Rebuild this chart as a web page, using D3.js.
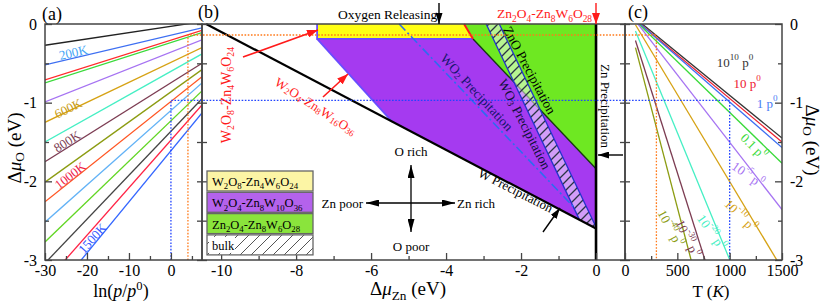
<!DOCTYPE html>
<html><head><meta charset="utf-8">
<script src="https://cdn.jsdelivr.net/npm/d3@7"></script>
<style>
body{margin:0;background:#fff}
svg{display:block;font-family:"Liberation Serif","Times New Roman",serif}
</style>
</head><body>
<script>
// ---------- data ----------
// (a) Δμ_O against ln(p/p0), one straight line per temperature
var aTemps   = [100,200,300,400,500,600,700,800,900,1000,1100,1200,1300,1400,1500];
var aLnEnds  = [-30, 7.4];
var aMuStart = [-0.27,-0.52,-0.71,-0.75,-0.99,-1.25,-1.50,-1.75,-2.01,-2.26,-2.52,-2.77,-3.04,-3.29,-3.56];
var aMuEnd   = [0.03,-0.05,-0.08,-0.11,-0.20,-0.30,-0.38,-0.50,-0.58,-0.67,-0.75,-0.85,-0.95,-1.03,-1.13];
var aColors  = ['#222222','#3d6ff2','#ff2a2a','#3ada3a','#a673f2','#d6a214','#45efc4','#7c3c52','#8c9c12','#ff5522','#62b2f6','#62d624','#444444','#ff2244','#3366ff'];
var aLabels  = ['200K','600K','800K','1000K','1500K'];

// (c) Δμ_O against T, one line per pressure (mantissa, exponent)
var cPress   = [['10','10'],['10',''],['1',''],['0.1',''],['10','-5'],['10','-10'],['10','-20'],['10','-30'],['10','-40']];
var cTEnds   = [100, 1500];
var cMuStart = [0.07,0.05,0.05,0.04,0.04,-0.01,-0.09,-0.21,-0.30];
var cMuEnd   = [-1.45,-1.50,-1.57,-1.77,-2.36,-3.11,-4.61,-6.09,-7.41];
var cColors  = ['#333333','#ee2030','#3d6ff2','#3ada3a','#a673f2','#d6a214','#45efc4','#7c3c52','#8c9c12'];

// (b) stability regions, points are (Δμ_Zn, Δμ_O)
var regYellow = [[-7.44,0],[-3.52,0],[-3.28,-0.19],[-7.44,-0.19]];
var regPurple = [[-7.44,-0.19],[-3.28,-0.19],[0,-1.84],[0,-2.6],[-5.44,-1.24]];
var regGreen  = [[-3.52,0],[0,0],[0,-1.84],[-3.28,-0.19]];
var regBulk   = [[-2.93,0],[-2.58,0],[0,-2.58],[0,-2.6],[-0.44,-2.49]];
var wLine     = [[-10.4,0],[0,-2.6]];
var wo2Line   = [[-5.25,0],[-0.55,-2.35]];
var legendNames = ['W2O8-Zn4W6O24','W2O4-Zn8W10O36','Zn2O4-Zn8W6O28','bulk'];

// dotted guides (300 K, 1000 K)
var guideMu = [-0.14, -0.97];
var guideLn = [4.05, 0];
var guideT  = [300, 1000];

// ticks
var aXTicks = [-30,-20,-10,0], aXMinor = [-25,-15,-5,5];
var yTicks = [0,-1,-2,-3], yMinor = [-0.5,-1.5,-2.5], yHalf = [0,-0.5,-1,-1.5,-2,-2.5,-3];
var bXTicks = [-10,-8,-6,-4,-2,0], bXMinor = [-9,-7,-5,-3,-1];
var cXTicks = [0,500,1000,1500], cXMinor = [250,750,1250];

// ---------- drawing ----------
var svg = d3.select('body').append('svg').attr('width', 825).attr('height', 302);
var defs = svg.append('defs');

var y  = d3.scaleLinear().domain([0,-3]).range([24,260]);
var xa = d3.scaleLinear().domain([-30,7.4]).range([45,202]);
var xb = d3.scaleLinear().domain([-10.51,0.773]).range([202,625]);
var xc = d3.scaleLinear().domain([0,1500]).range([625,782]);

function clip(id, x0, x1) {
    defs.append('clipPath').attr('id', id).append('rect')
        .attr('x', x0).attr('y', 24).attr('width', x1 - x0).attr('height', 236);
}
clip('clipA', 45, 202); clip('clipC', 625, 782);

// hatch patterns
var ph = defs.append('pattern').attr('id','hatchStrip').attr('patternUnits','userSpaceOnUse')
    .attr('width', 9).attr('height', 9);
ph.append('rect').attr('width', 9).attr('height', 9).attr('fill', '#fff').attr('fill-opacity', 0.5);
ph.append('path').attr('d','M0,9 L9,0 M-2,2 L2,-2 M7,11 L11,7').attr('stroke','#2a3444').attr('stroke-width',1.3);
var pl = defs.append('pattern').attr('id','hatchLegend').attr('patternUnits','userSpaceOnUse')
    .attr('width', 11).attr('height', 11);
pl.append('rect').attr('width', 11).attr('height', 11).attr('fill', '#fff');
pl.append('path').attr('d','M0,11 L11,0 M-2,2 L2,-2 M9,13 L13,9').attr('stroke','#555').attr('stroke-width',1);

function marker(id, color, w, l) {
    defs.append('marker').attr('id', id).attr('viewBox','0 0 10 10')
        .attr('refX', 10).attr('refY', 5).attr('markerWidth', l).attr('markerHeight', w)
        .attr('markerUnits','userSpaceOnUse').attr('orient','auto-start-reverse')
        .attr('preserveAspectRatio','none')
        .append('path').attr('d','M0,0 L10,5 L0,10 z').attr('fill', color);
}
marker('arrK', '#000', 7, 11);
marker('arrR', '#ff1a1a', 8, 11);
marker('arrC', '#000', 7, 13);

// rich text: parts = [[string, kind]], kind '' | 'it' | 'sub' | 'sup' | 'itsub'
function rich(g, x, yy, parts, o) {
    var t = g.append('text').attr('x', x).attr('y', yy)
        .attr('font-size', o.size).attr('fill', o.color || '#000')
        .attr('text-anchor', o.anchor || 'start');
    if (o.central) t.attr('dominant-baseline', 'central');
    if (o.rot) t.attr('transform', 'rotate(' + o.rot + ',' + x + ',' + yy + ')');
    var shift = 0;
    parts.forEach(function(p) {
        var k = p[1] || '';
        var target = k.indexOf('sub') >= 0 ? o.size * 0.27 : (k.indexOf('sup') >= 0 ? -o.size * 0.38 : 0);
        var ts = t.append('tspan').text(p[0]);
        if (target !== shift) ts.attr('dy', target - shift);
        shift = target;
        if (target !== 0) ts.attr('font-size', o.size * 0.7);
        if (k.indexOf('it') >= 0) ts.attr('font-style', 'italic');
    });
    return t;
}
function chem(s) {
    return s.match(/\d+|\D+/g).map(function(m) { return [m, /\d/.test(m) ? 'sub' : '']; });
}

var line = function(sx) {
    return d3.line().x(function(d) { return sx(d[0]); }).y(function(d) { return y(d[1]); });
};

// ----- panel (b) regions -----
var gB = svg.append('g');
var lb = line(xb);
gB.append('path').attr('d', lb(regYellow) + 'Z').attr('fill', '#ffff14');
gB.append('path').attr('d', lb(regPurple) + 'Z').attr('fill', '#a53af0');
gB.append('path').attr('d', lb(regGreen) + 'Z').attr('fill', '#6ee822');
// borders
gB.append('path').attr('d', lb([regYellow[0], regYellow[3], regYellow[2]])).attr('fill','none')
    .attr('stroke','#6a4cff').attr('stroke-width',1.8);
gB.append('path').attr('d', lb([regPurple[0], regPurple[4]])).attr('fill','none')
    .attr('stroke','#6a4cff').attr('stroke-width',1.8);
gB.append('path').attr('d', lb([regGreen[3], regGreen[2]])).attr('fill','none')
    .attr('stroke','#153a10').attr('stroke-width',1.4);
gB.append('path').attr('d', lb([regYellow[1], regYellow[2]])).attr('fill','none')
    .attr('stroke','#ff1a1a').attr('stroke-width',2);
// bulk strip
gB.append('path').attr('d', lb(regBulk) + 'Z').attr('fill', 'url(#hatchStrip)');
gB.append('path').attr('d', lb([regBulk[0], regBulk[4]])).attr('fill','none').attr('stroke','#2233cc').attr('stroke-width',1.3);
gB.append('path').attr('d', lb([regBulk[1], regBulk[2]])).attr('fill','none').attr('stroke','#2233cc').attr('stroke-width',1.3);
// WO2 line, W line, Zn line
gB.append('path').attr('d', lb(wo2Line)).attr('fill','none').attr('stroke','#2d6cf0')
    .attr('stroke-width',1.6).attr('stroke-dasharray','9,3,2,3');
gB.append('path').attr('d', lb(wLine)).attr('fill','none').attr('stroke','#000').attr('stroke-width',2.2);
gB.append('line').attr('x1', xb(0)).attr('x2', xb(0)).attr('y1', y(0)).attr('y2', y(-3))
    .attr('stroke','#000').attr('stroke-width',2.6);

// ----- panel (a) lines -----
var la = line(xa);
svg.append('g').attr('clip-path','url(#clipA)').selectAll('path').data(aTemps).join('path')
    .attr('d', function(t, i) { return la([[aLnEnds[0], aMuStart[i]], [aLnEnds[1], aMuEnd[i]]]); })
    .attr('fill','none').attr('stroke', function(t, i) { return aColors[i]; }).attr('stroke-width', 1.3);

// ----- panel (c) lines -----
var lc = line(xc);
svg.append('g').attr('clip-path','url(#clipC)').selectAll('path').data(cPress).join('path')
    .attr('d', function(p, i) { return lc([[cTEnds[0], cMuStart[i]], [cTEnds[1], cMuEnd[i]]]); })
    .attr('fill','none').attr('stroke', function(p, i) { return cColors[i]; }).attr('stroke-width', 1.3);

// ----- dotted guides -----
var guideColors = ['#ff7a1a', '#2244ff'];
var gG = svg.append('g').attr('fill','none').attr('stroke-width',1.3).attr('stroke-dasharray','1.6,1.6');
guideMu.forEach(function(mu, k) {
    var d = 'M' + xa(guideLn[k]) + ',' + y(-3) + 'V' + y(mu) + 'H' + xc(guideT[k]) + 'V' + y(-3);
    gG.append('path').attr('d', d).attr('stroke', guideColors[k]);
});

// ----- frames -----
var gF = svg.append('g').attr('fill','none').attr('stroke','#444').attr('stroke-width',1.5);
[[45,202],[202,625],[625,782]].forEach(function(r) {
    gF.append('rect').attr('x', r[0]).attr('y', y(0)).attr('width', r[1] - r[0]).attr('height', y(-3) - y(0));
});

// ----- axes -----
var fmt = function(d) { return String(d); };
function styleAxis(g, size) {
    g.select('.domain').remove();
    g.attr('font-family', null).attr('font-size', size || 16);
    g.selectAll('line').attr('stroke', '#444').attr('stroke-width', 1.3);
    g.selectAll('text').attr('fill', '#000');
}
function ax(gen, tx, ty) {
    var g = svg.append('g').attr('transform', 'translate(' + tx + ',' + ty + ')').call(gen);
    styleAxis(g);
    return g;
}
// bottom axes
ax(d3.axisBottom(xa).tickValues(aXTicks).tickSizeInner(-7).tickSizeOuter(0).tickPadding(5).tickFormat(fmt), 0, 260);
ax(d3.axisBottom(xa).tickValues(aXMinor).tickSizeInner(-4).tickSizeOuter(0).tickFormat(''), 0, 260);
ax(d3.axisBottom(xb).tickValues(bXTicks).tickSizeInner(-7).tickSizeOuter(0).tickPadding(5).tickFormat(fmt), 0, 260);
ax(d3.axisBottom(xb).tickValues(bXMinor).tickSizeInner(-4).tickSizeOuter(0).tickFormat(''), 0, 260);
ax(d3.axisBottom(xc).tickValues(cXTicks).tickSizeInner(-7).tickSizeOuter(0).tickPadding(5).tickFormat(fmt), 0, 260);
ax(d3.axisBottom(xc).tickValues(cXMinor).tickSizeInner(-4).tickSizeOuter(0).tickFormat(''), 0, 260);
// left of (a), right of (c)
ax(d3.axisLeft(y).tickValues(yTicks).tickSizeInner(-7).tickSizeOuter(0).tickPadding(8).tickFormat(fmt), 45, 0);
ax(d3.axisLeft(y).tickValues(yMinor).tickSizeInner(-4).tickSizeOuter(0).tickFormat(''), 45, 0);
ax(d3.axisRight(y).tickValues(yTicks).tickSizeInner(-7).tickSizeOuter(0).tickPadding(8).tickFormat(fmt), 782, 0);
ax(d3.axisRight(y).tickValues(yMinor).tickSizeInner(-4).tickSizeOuter(0).tickFormat(''), 782, 0);
// shared edges: ticks on both sides
[202, 625].forEach(function(xe) {
    ax(d3.axisLeft(y).tickValues(yHalf).tickSizeInner(5).tickSizeOuter(0).tickFormat(''), xe, 0);
    ax(d3.axisRight(y).tickValues(yHalf).tickSizeInner(5).tickSizeOuter(0).tickFormat(''), xe, 0);
});

// ----- axis titles -----
var gT = svg.append('g');
rich(gT, 14, 148, [['Δ',''],['μ','it'],['O','sub'],[' (eV)','']], {size:19, anchor:'middle', central:true, rot:-90});
rich(gT, 813, 140, [['Δ',''],['μ','it'],['O','sub'],[' (eV)','']], {size:19, anchor:'middle', central:true, rot:90});
rich(gT, 121, 297, [['ln(',''],['p','it'],['/',''],['p','it'],['0','sup'],[')','']], {size:18, anchor:'middle'});
rich(gT, 408, 295, [['Δ',''],['μ','it'],['Zn','sub'],[' (eV)','']], {size:19, anchor:'middle'});
rich(gT, 711, 297, [['T (',''],['K','it'],[')','']], {size:17, anchor:'middle'});
rich(gT, 42, 20, [['(a)','']], {size:18});
rich(gT, 198, 18, [['(b)','']], {size:18});
rich(gT, 628, 18, [['(c)','']], {size:18});

// ----- (a) temperature labels -----
var aLab = [[1,-23.3,-0.356,-13,'#45a5f5'],[5,-24.5,-1.067,-26,'#c89a10'],[7,-24.8,-1.487,-32,'#7c3c52'],
            [9,-24.05,-1.919,-38,'#ee1c4a'],[14,-18.8,-2.72,-48,'#3355ff']];
aLab.forEach(function(l, k) {
    rich(gT, xa(l[1]), y(l[2]), [[aLabels[k],'']], {size:13, anchor:'middle', central:true, rot:l[3], color:l[4]});
});

// ----- (c) pressure labels -----
var cLab = [[0,1051,-0.48,0],[1,1166,-0.75,0],[2,1357,-1.0,0],[3,1233,-1.55,45],[4,1175,-1.91,35],
            [5,1108,-2.43,45],[6,831,-2.64,55],[7,602,-2.72,65],[8,439,-2.59,62]];
cLab.forEach(function(l) {
    var p = cPress[l[0]];
    var parts = [[p[0], '']];
    if (p[1]) parts.push([p[1], 'sup']);
    parts.push([' p', '']); parts.push(['0', 'sup']);
    var col = l[0] === 2 ? '#4a7cf5' : cColors[l[0]];
    rich(gT, xc(l[1]), y(l[2]), parts, {size:13, anchor:'middle', central:true, rot:l[3], color:col});
});

// ----- (b) annotations -----
var gN = svg.append('g');
function arrow(x1, y1, x2, y2, col, mk, both, w) {
    var p = gN.append('line').attr('x1', x1).attr('y1', y1).attr('x2', x2).attr('y2', y2)
        .attr('stroke', col).attr('stroke-width', w || 1.4).attr('marker-end', 'url(#' + mk + ')');
    if (both) p.attr('marker-start', 'url(#' + mk + ')');
}
rich(gN, 338, 19, [['Oxygen Releasing','']], {size:13.5});
arrow(439, 3, 439, 24, '#000', 'arrK');
rich(gN, 497, 18, chem('Zn2O4-Zn8W6O28'), {size:13.5, color:'#ff1a1a'});
arrow(596, 3, 596, 24, '#ff1a1a', 'arrR');
rich(gN, 226, 95, chem('W2O8-Zn4W6O24'), {size:14, color:'#ff1a1a', anchor:'middle', central:true, rot:-90});
arrow(243, 57, 318, 30, '#ff1a1a', 'arrR', false, 1.6);
rich(gN, 316, 106, chem('W2O4-Zn8W16O36'), {size:13, color:'#ff1a1a', anchor:'middle', central:true, rot:33});
arrow(323, 97, 348, 74, '#ff1a1a', 'arrR', false, 1.6);
rich(gN, 477, 92, [['WO',''],['2','sub'],[' Precipitation','']], {size:13.5, color:'#15156e', anchor:'middle', central:true, rot:47});
rich(gN, 525, 124, [['WO',''],['3','sub'],[' Precipitation','']], {size:13.5, color:'#10103a', anchor:'middle', central:true, rot:63});
rich(gN, 530, 70, [['ZnO Precipitation','']], {size:13.5, anchor:'middle', central:true, rot:62});
rich(gN, 606, 106, [['Zn Precipitation','']], {size:13, anchor:'middle', central:true, rot:90});
arrow(623, 155, 598, 155, '#000', 'arrK');
rich(gN, 516, 190, [['W Precipitation','']], {size:13, anchor:'middle', central:true, rot:27});
arrow(543, 232, 560, 208, '#000', 'arrK');
// compass
arrow(411, 203, 411, 165, '#000', 'arrC', false, 1.3);
arrow(411, 203, 411, 232, '#000', 'arrC', false, 1.3);
arrow(411, 203, 366, 203, '#000', 'arrC', false, 1.3);
arrow(411, 203, 455, 203, '#000', 'arrC', false, 1.3);
rich(gN, 411, 156, [['O rich','']], {size:13, anchor:'middle'});
rich(gN, 411, 251, [['O poor','']], {size:13, anchor:'middle'});
rich(gN, 363, 203, [['Zn poor','']], {size:13, anchor:'end', central:true});
rich(gN, 457, 203, [['Zn rich','']], {size:13, central:true});

// ----- (b) legend -----
var legFill = ['#fcf5a5', '#b462ec', '#8ae43c', 'url(#hatchLegend)'];
var gL = svg.append('g');
legendNames.forEach(function(n, i) {
    var t = 171 + i * 21.3;
    gL.append('rect').attr('x', 207).attr('y', t).attr('width', 106).attr('height', 20)
        .attr('fill', legFill[i]).attr('stroke', '#666').attr('stroke-width', 1.3);
    if (n === 'bulk') gL.append('rect').attr('x', 209).attr('y', t + 2).attr('width', 26).attr('height', 16).attr('fill', '#fff');
    rich(gL, 212, t + 15, chem(n), {size:12.5});
});
</script>
</body></html>
